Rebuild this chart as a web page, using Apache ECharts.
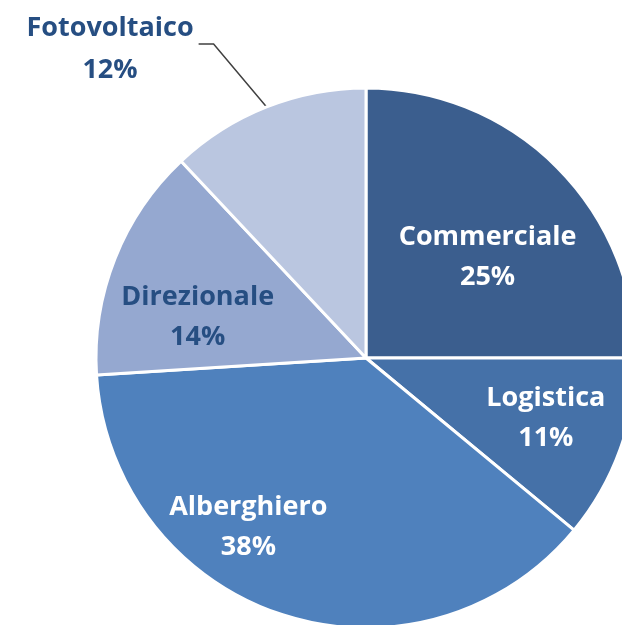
<!DOCTYPE html>
<html>
<head>
<meta charset="utf-8">
<script src="https://cdn.jsdelivr.net/npm/echarts@6/dist/echarts.min.js"></script>
<style>
  html, body { margin: 0; padding: 0; background: #fff; }
  #chart { width: 622px; height: 625px; }
</style>
</head>
<body>
<div id="chart"></div>
<script>
// dati del grafico
var categories = ["Commerciale", "Logistica", "Alberghiero", "Direzionale", "Fotovoltaico"];
var values = [25, 11, 38, 14, 12];
var colors = ["#3B5E8E", "#4571A8", "#4F81BD", "#95A8D0", "#BAC6E0"];
var labelColors = ["#ffffff", "#ffffff", "#ffffff", "#264E82", "#264E82"];
// spostamento delle etichette rispetto alla posizione "inside"
var labelOffsets = [[24, -3], [50, 14], [-75, 38], [-40, 10], null];

var myChart = echarts.init(document.getElementById("chart"));

var seriesData = categories.map(function (name, i) {
  var item = {
    name: name,
    value: values[i],
    itemStyle: { color: colors[i] },
    label: { color: labelColors[i] }
  };
  if (labelOffsets[i]) {
    item.label.position = "inside";
    item.label.offset = labelOffsets[i];
  } else {
    item.label.position = "outside";
    item.label.formatter = "{a|{b}}\n{a|{d}%}";
    item.label.rich = { a: { align: "center", fontFamily: "Open Sans", fontWeight: "bold", fontSize: 27, lineHeight: 42, color: labelColors[i] } };
    item.labelLine = { show: true, length: 62, length2: 16, lineStyle: { color: "#404040", width: 1.5 } };
  }
  return item;
});

var option = {
  animation: false,
  series: [
    {
      type: "pie",
      center: [366, 358],
      radius: 270,
      startAngle: 90,
      clockwise: true,
      data: seriesData,
      itemStyle: { borderColor: "#ffffff", borderWidth: 3 },
      label: {
        show: true,
        formatter: "{b}\n{d}%",
        fontFamily: "Open Sans",
        fontWeight: "bold",
        fontSize: 27,
        lineHeight: 40,
        align: "center"
      },
      labelLine: { show: false },
      // linea guida spezzata come in Excel per l'etichetta esterna
      labelLayout: function (params) {
        if (params.dataIndex !== 4 || !params.labelLinePoints) {
          return {};
        }
        var p0 = params.labelLinePoints[0];
        var p1 = [p0[0] - 53, p0[1] - 63];
        var p2 = [p1[0] - 15, p1[1]];
        return {
          x: p2[0] - 5,
          y: p2[1] + 5,
          align: "right",
          verticalAlign: "middle",
          labelLinePoints: [p0, p1, p2]
        };
      }
    }
  ]
};

myChart.setOption(option);
</script>
</body>
</html>
